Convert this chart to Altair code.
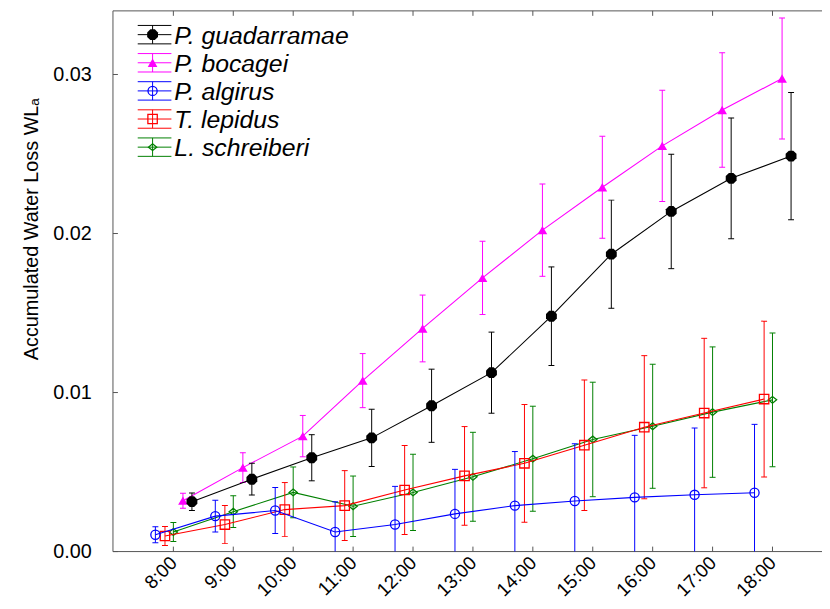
import altair as alt
import pandas as pd

hours = list(range(8, 19))
species = ["P. guadarramae", "P. bocagei", "P. algirus", "T. lepidus", "L. schreiberi"]

guadarramae_mean = [0.00314, 0.00455, 0.00590, 0.00715, 0.00917, 0.01125, 0.01480, 0.01870, 0.02139, 0.02347, 0.02487]
guadarramae_err = [0.00055, 0.00100, 0.00145, 0.00180, 0.00230, 0.00255, 0.00310, 0.00340, 0.00360, 0.00380, 0.00400]
bocagei_mean = [0.00320, 0.00528, 0.00726, 0.01075, 0.01403, 0.01721, 0.02021, 0.02291, 0.02551, 0.02777, 0.02975]
bocagei_err = [0.00047, 0.00094, 0.00130, 0.00170, 0.00210, 0.00230, 0.00290, 0.00320, 0.00350, 0.00360, 0.00380]
algirus_mean = [0.00106, 0.00223, 0.00258, 0.00123, 0.00170, 0.00237, 0.00289, 0.00318, 0.00341, 0.00357, 0.00370]
algirus_err = [0.00050, 0.00100, 0.00145, 0.00190, 0.00240, 0.00280, 0.00340, 0.00360, 0.00390, 0.00420, 0.00430]
lepidus_mean = [0.00098, 0.00170, 0.00264, 0.00289, 0.00387, 0.00476, 0.00555, 0.00669, 0.00782, 0.00871, 0.00959]
lepidus_err = [0.00060, 0.00120, 0.00170, 0.00220, 0.00280, 0.00310, 0.00370, 0.00410, 0.00450, 0.00470, 0.00490]
schreiberi_mean = [0.00123, 0.00251, 0.00372, 0.00285, 0.00372, 0.00470, 0.00584, 0.00705, 0.00788, 0.00877, 0.00954]
schreiberi_err = [0.00060, 0.00100, 0.00160, 0.00190, 0.00240, 0.00280, 0.00330, 0.00360, 0.00390, 0.00410, 0.00420]

y_ticks = [0.0, 0.01, 0.02, 0.03]

means = dict(zip(species, [guadarramae_mean, bocagei_mean, algirus_mean, lepidus_mean, schreiberi_mean]))
errs = dict(zip(species, [guadarramae_err, bocagei_err, algirus_err, lepidus_err, schreiberi_err]))

# layout / style (not data)
offset = {"P. guadarramae": 0.31, "P. bocagei": 0.16, "P. algirus": -0.30, "T. lepidus": -0.14, "L. schreiberi": 0.0}
colors = {"P. guadarramae": "#000000", "P. bocagei": "#ff00ff", "P. algirus": "#0000ff",
          "T. lepidus": "#ff0000", "L. schreiberi": "#008000"}
octagon = "M-0.41,-1L0.41,-1L1,-0.41L1,0.41L0.41,1L-0.41,1L-1,0.41L-1,-0.41Z"
rhomb = "M-1,0L0,-0.8L1,0L0,0.8Z"
marker = {
    "P. guadarramae": dict(shape=octagon, size=120, filled=True),
    "P. bocagei": dict(shape="triangle-up", size=95, filled=True),
    "P. algirus": dict(shape="circle", size=85, filled=False),
    "T. lepidus": dict(shape="square", size=90, filled=False),
    "L. schreiberi": dict(shape=rhomb, size=70, filled=False),
}

W, H = 708, 546
FONT = "Liberation Sans"
AX = "#555555"

rows = []
for s in species:
    for h, m, e in zip(hours, means[s], errs[s]):
        rows.append({"series": s, "x": h + offset[s], "mean": m, "lo": m - e, "hi": m + e})
df = pd.DataFrame(rows)

xs = alt.Scale(domain=[6.992, 18.694], nice=False, zero=False)
ys = alt.Scale(domain=[0, 0.034], nice=False, zero=False)

x_axis = alt.Axis(values=hours, labelExpr="datum.value + ':00'", labelAngle=315, labelAlign="right",
                  labelBaseline="middle", labelFontSize=19, labelPadding=8, labelFlush=False,
                  labelOverlap=False, ticks=False, tickSize=0, domain=False, grid=False,
                  labelColor="#000000", labelFont=FONT)
y_axis = alt.Axis(values=y_ticks, format=".2f", labelFontSize=20, labelPadding=22, ticks=False,
                  tickSize=0, domain=False, grid=False, labelColor="#000000", labelFont=FONT,
                  titleFontSize=20, titleFontWeight="normal", titleFont=FONT, titleColor="#000000",
                  titleAngle=270, titleAlign="center", titleBaseline="alphabetic", titleX=-76, titleY=220)
YTITLE = "Accumulated Water Loss WL\u2090"


def X(f):
    return alt.X(f, type="quantitative", scale=xs, axis=x_axis, title="")


def Y(f):
    return alt.Y(f, type="quantitative", scale=ys, axis=y_axis, title=YTITLE)


layers = []

# frame lines
one = pd.DataFrame({"a": [0]})
layers.append(alt.Chart(one).mark_rule(color=AX, strokeWidth=1).encode(
    x=alt.value(0), x2=alt.value(W + 8), y=alt.value(0)))
layers.append(alt.Chart(one).mark_rule(color=AX, strokeWidth=1).encode(
    x=alt.value(0), x2=alt.value(W + 8), y=alt.value(H)))
layers.append(alt.Chart(one).mark_rule(color=AX, strokeWidth=1).encode(
    x=alt.value(0), y=alt.value(0), y2=alt.value(H)))

# inward ticks
tx = pd.DataFrame({"h": hours})
layers.append(alt.Chart(tx).mark_rule(color=AX).encode(x=X("h"), y=alt.value(H - 5), y2=alt.value(H)))
layers.append(alt.Chart(tx).mark_rule(color=AX).encode(x=X("h"), y=alt.value(0), y2=alt.value(5)))
ty = pd.DataFrame({"v": y_ticks})
layers.append(alt.Chart(ty).mark_rule(color=AX).encode(y=Y("v"), x=alt.value(0), x2=alt.value(5)))

for s in reversed(species):
    d = df[df.series == s]
    c = colors[s]
    base = alt.Chart(d)
    layers.append(base.mark_rule(color=c, strokeWidth=1, clip=True).encode(x=X("x"), y=Y("lo"), y2="hi"))
    layers.append(base.mark_tick(color=c, orient="horizontal", size=6, thickness=1, clip=True, opacity=1).encode(x=X("x"), y=Y("lo")))
    layers.append(base.mark_tick(color=c, orient="horizontal", size=6, thickness=1, clip=True, opacity=1).encode(x=X("x"), y=Y("hi")))
    layers.append(base.mark_line(color=c, strokeWidth=1.1).encode(x=X("x"), y=Y("mean")))
    mk = marker[s]
    layers.append(base.mark_point(shape=mk["shape"], size=mk["size"], color=c, filled=mk["filled"],
                                  strokeWidth=1.3, opacity=1).encode(x=X("x"), y=Y("mean")))

# legend (layout positions computed from row index)
for i, s in enumerate(species):
    c = colors[s]
    ry = 24 + 28.4 * i
    ld = pd.DataFrame({"x0": [25], "x1": [59], "xm": [40], "y": [ry], "yt": [ry - 9.3], "yb": [ry + 9.3],
                       "ty": [ry + 9], "tx": [62], "label": [s]})
    lb = alt.Chart(ld)
    for yy in ["yt", "y", "yb"]:
        layers.append(lb.mark_rule(color=c, strokeWidth=1).encode(
            x=alt.X("x0:Q", scale=None), x2="x1:Q", y=alt.Y(yy + ":Q", scale=None)))
    layers.append(lb.mark_rule(color=c, strokeWidth=1).encode(
        x=alt.X("xm:Q", scale=None), y=alt.Y("yt:Q", scale=None), y2="yb:Q"))
    mk = marker[s]
    layers.append(lb.mark_point(shape=mk["shape"], size=mk["size"], color=c, filled=mk["filled"],
                                strokeWidth=1.3, opacity=1).encode(
        x=alt.X("xm:Q", scale=None), y=alt.Y("y:Q", scale=None)))
    layers.append(lb.mark_text(align="left", baseline="alphabetic", fontSize=25, fontStyle="italic",
                               font=FONT, color="#000000").encode(
        x=alt.X("tx:Q", scale=None), y=alt.Y("ty:Q", scale=None), text="label:N"))

chart = alt.layer(*layers).properties(
    width=W, height=H,
    padding={"left": 106, "top": 0, "right": 8, "bottom": 47},
    autosize=alt.AutoSizeParams(type="none"),
    background="#ffffff",
).configure_view(stroke=None)

chart.save("out.html", embed_options={"renderer": "svg", "actions": False})
